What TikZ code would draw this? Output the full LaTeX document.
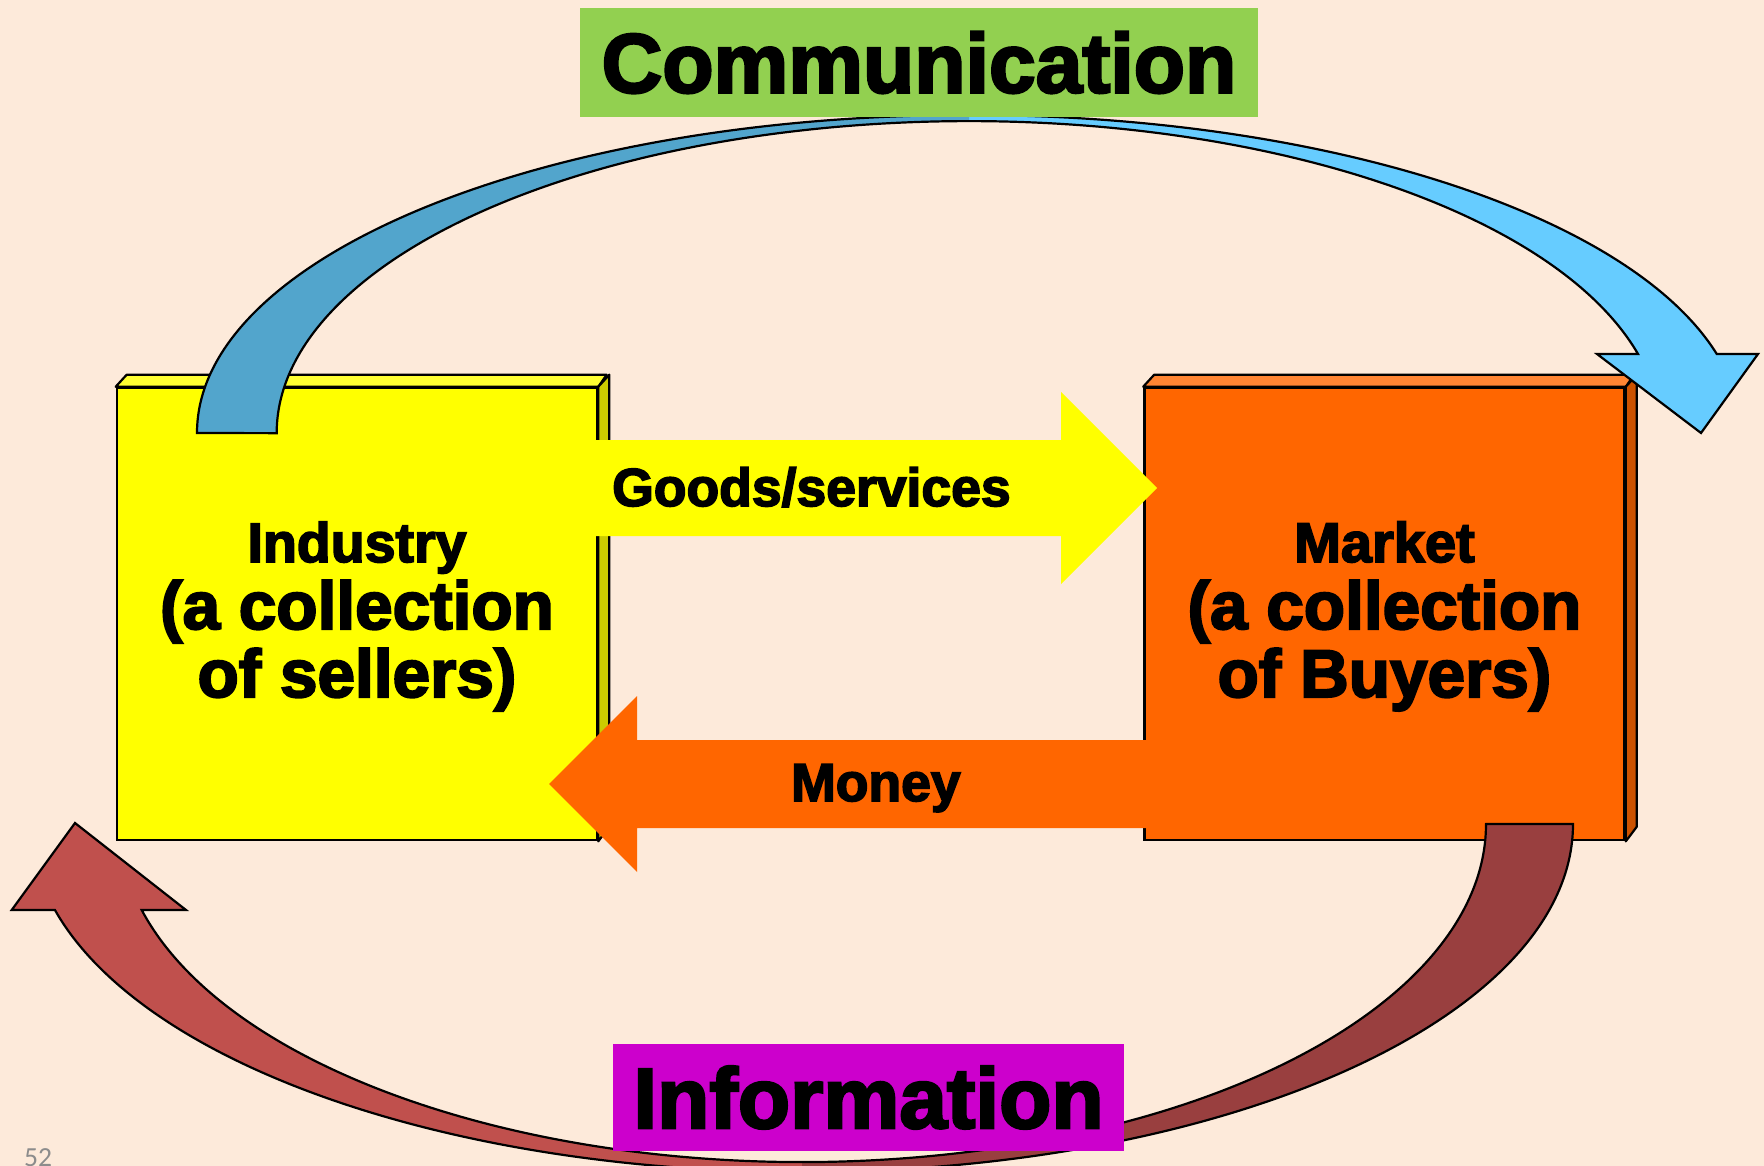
\documentclass[tikz,border=0pt]{standalone}
\usepackage{fontspec}
\setmainfont{Liberation Sans}
\newfontfamily\heavy{Liberation Sans}[UprightFont={* Bold},FakeBold=3]
\newfontfamily\slidefont{Carlito}
\usepackage{xcolor}

\definecolor{bg}{HTML}{FDEADA}
\definecolor{commgreen}{HTML}{92D050}
\definecolor{infomagenta}{HTML}{CC00CC}
\definecolor{indfront}{HTML}{FFFF00}
\definecolor{indtop}{HTML}{FFFF33}
\definecolor{indside}{HTML}{CCCC00}
\definecolor{mktfront}{HTML}{FF6600}
\definecolor{mkttop}{HTML}{FF8533}
\definecolor{mktside}{HTML}{CC5200}
\definecolor{blueback}{HTML}{52A5CC}
\definecolor{bluefront}{HTML}{66CCFF}
\definecolor{redfront}{HTML}{C0504D}
\definecolor{redback}{HTML}{993F3F}
\definecolor{pagegray}{HTML}{8C8C8C}

\begin{document}
\begin{tikzpicture}[x=1pt,y=-1pt,
  outline/.style={draw=black,line width=2.2pt,line join=miter},
  slab/.style={draw=black,line width=2.6pt,inner sep=0pt,minimum width=480pt,minimum height=452pt},
  edge/.style={draw=black,line width=2.2pt,line join=round},
  banner/.style={inner sep=0pt,minimum width=678pt,minimum height=109pt,font=\heavy\fontsize{84}{90}\selectfont},
  flowlabel/.style={inner sep=0pt,anchor=base west,font=\heavy\fontsize{53.5}{60}\selectfont},
  boxlabel/.style={inner sep=0pt,anchor=base,font=\heavy\fontsize{67.5}{70}\selectfont}]

 \fill[bg] (0,0) rectangle (1764,1166);
 \useasboundingbox (0,0) rectangle (1764,1166);

 % the two slabs, front face plus top and side faces
 \foreach \cx/\front/\top/\side/\nm in {357/indfront/indtop/indside/industry,1384.5/mktfront/mkttop/mktside/market}{
  \node[slab,fill=\front] (\nm) at (\cx,614) {};
  \draw[edge,fill=\top] (\nm.north west) -- ++(11,-12) -- ++(480,0) -- (\nm.north east) -- cycle;
  \draw[edge,fill=\side] (\nm.north east) -- ++(11,-12) -- ++(0,452) -- (\nm.south east) -- cycle;
 }

 % flat arrows between the slabs
 \fill[indfront] (590,440) -- (1061,440) -- (1061,392) -- (1157,488) -- (1061,584) -- (1061,536) -- (590,536) -- cycle;
 \fill[mktfront] (1152,740) -- (637,740) -- (637,696) -- (549,784) -- (637,872) -- (637,828) -- (1152,828) -- cycle;

 % curved arrows, darker on the half that leaves the slab
 \def\commpath{(197,433) arc[start angle=180,end angle=345.6,x radius=772,y radius=318]
   -- (1758,354) -- (1701,433) -- (1597,354) -- (1638,354)
   arc[start angle=345.3,end angle=180,x radius=692,y radius=312] -- cycle}
 \def\infopath{(1486,824) -- (1573,824) arc[start angle=0,end angle=165.7,x radius=771,y radius=348]
   -- (11.7,910) -- (75,823) -- (186,910) -- (141.7,910)
   arc[start angle=165.26,end angle=0,x radius=683.4,y radius=338] -- cycle}

 \fill[bluefront] \commpath;
 \begin{scope}
  \clip (0,0) rectangle (969,1166);
  \fill[blueback] \commpath;
 \end{scope}
 \draw[outline] \commpath;

 \fill[redfront] \infopath;
 \begin{scope}
  \clip (802,0) rectangle (1764,1166);
  \fill[redback] \infopath;
 \end{scope}
 \draw[outline] \infopath;

 \node[banner,fill=commgreen] (comm) at (919,62.5) {Communication};
 \node[banner,fill=infomagenta,minimum width=511pt,minimum height=107pt,font=\heavy\fontsize{85.5}{90}\selectfont] (info) at (868.5,1097.5) {Information};

 \node[flowlabel] (goods) at (612,506) {Goods/services};
 \node[flowlabel] (money) at (791,801) {Money};

 \node[boxlabel,font=\heavy\fontsize{55.5}{60}\selectfont] (ind1) at (357,562) {Industry};
 \node[boxlabel] (ind2) at (357,629) {(a collection};
 \node[boxlabel] (ind3) at (357,697) {of sellers)};
 \node[boxlabel,font=\heavy\fontsize{56}{60}\selectfont] (mkt1) at (1384.5,562) {Market};
 \node[boxlabel] (mkt2) at (1384.5,629) {(a collection};
 \node[boxlabel] (mkt3) at (1384.5,697) {of Buyers)};

 \node[inner sep=0pt,anchor=base west,text=pagegray,font=\slidefont\fontsize{27.6}{30}\selectfont] (pagenum) at (24,1166) {52};
\end{tikzpicture}
\end{document}
